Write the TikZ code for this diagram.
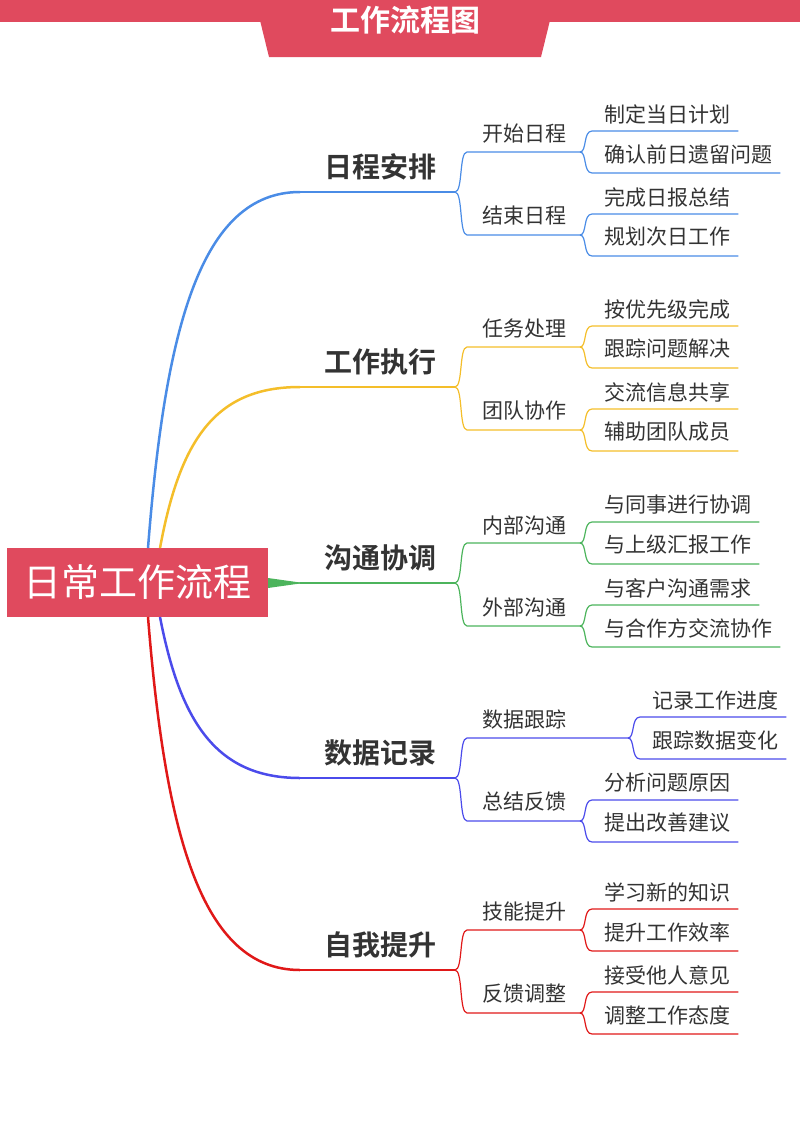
\documentclass[tikz,border=0pt]{standalone}
\usepackage{fontspec}
\setmainfont{Noto Sans CJK SC}
\newfontfamily\boldcjk{Noto Sans CJK SC Bold}
\definecolor{rosered}{HTML}{E04A5E}
\definecolor{inkgray}{HTML}{333333}
\definecolor{cblue}{HTML}{4A8CE6}
\definecolor{cyellow}{HTML}{F4BE2A}
\definecolor{cgreen}{HTML}{4CB45C}
\definecolor{cpurple}{HTML}{4B4BEB}
\definecolor{cred}{HTML}{E01818}
\tikzset{
	topic/.style={font=\boldcjk\fontsize{28}{30}\selectfont,text=inkgray},
	sub/.style={font=\fontsize{21}{23}\selectfont,text=inkgray},
	leaf/.style={font=\fontsize{21}{23}\selectfont,text=inkgray,anchor=west,inner sep=0pt}
}
% #1 name, #2 colour, #3 y, #4 x of end, #5 upper text, #6 lower text
\newcommand{\twig}[6]{
	\coordinate (#1e) at (#4,#3);
	\node[leaf] (#1a) at (#4+24,#3-38) {#5};
	\node[leaf] (#1b) at (#4+24,#3+2) {#6};
	\coordinate (#1a1) at (#4+12,#3-21);
	\coordinate (#1b1) at (#4+12,#3+21);
	\draw[#2,line width=1.2pt] (#1e) .. controls (#4+7,#3) and (#4+3,#3-21) .. (#1a1) -- (#1a.east |- #1a1) -- ++(8,0);
	\draw[#2,line width=1.2pt] (#1e) .. controls (#4+7,#3) and (#4+3,#3+21) .. (#1b1) -- (#1b.east |- #1b1) -- ++(8,0);
}
% #1 name, #2 colour, #3 base y, #4 topic, #5 sub a, #6 sub b, #7 end a, #8 end b
\newcommand{\limb}[8]{
	\node[topic] (#1) at (380,#3-25) {#4};
	\coordinate (#1s) at (300,#3);
	\coordinate (#1e) at (455,#3);
	\draw[#2,line width=1.2pt] (#1s) -- (#1e);
	\node[sub] (#1p) at (524,#3-58) {#5};
	\node[sub] (#1q) at (524,#3+24) {#6};
	\coordinate (#1p1) at (467,#3-40);
	\coordinate (#1q1) at (467,#3+43);
	\draw[#2,line width=1.2pt] (#1e) .. controls (463,#3) and (459,#3-40) .. (#1p1) -- (#7,#3-40);
	\draw[#2,line width=1.2pt] (#1e) .. controls (463,#3) and (459,#3+43) .. (#1q1) -- (#8,#3+43);
}
\begin{document}
\begin{tikzpicture}[x=1pt,y=-1pt]
	\useasboundingbox (0,0) rectangle (800,1130);
	% banner
	\fill[rosered] (0,0) rectangle (800,22);
	\fill[rosered] (255,0) -- (555,0) -- (541,57) -- (269,57) -- cycle;
	\node[font=\boldcjk\fontsize{30}{32}\selectfont,text=white] (title) at (405,20) {工作流程图};
	% root
	\node[fill=rosered,minimum width=261pt,minimum height=69pt,text=white,
		font=\fontsize{38}{40}\selectfont,inner sep=0pt] (root) at (137.5,582.5) {日常工作流程};
	% branches
	\limb{plan}{cblue}{192}{日程安排}{开始日程}{结束日程}{580}{580}
	\limb{work}{cyellow}{387}{工作执行}{任务处理}{团队协作}{580}{580}
	\limb{talk}{cgreen}{583}{沟通协调}{内部沟通}{外部沟通}{580}{580}
	\limb{data}{cpurple}{778}{数据记录}{数据跟踪}{总结反馈}{628}{580}
	\limb{grow}{cred}{970}{自我提升}{技能提升}{反馈调整}{580}{580}
	\draw[cblue,line width=2.5pt] (148,548) .. controls (165,330) and (200,192) .. (plans);
	\draw[cyellow,line width=2.5pt] (160,548) .. controls (180,440) and (215,387) .. (works);
	\fill[cgreen] (268,578) -- (300,582.5) -- (300,583.5) -- (268,588) -- cycle;
	\draw[cgreen,line width=1.2pt] (root.east) -- (talks);
	\draw[cpurple,line width=2.5pt] (160,617) .. controls (180,720) and (215,778) .. (datas);
	\draw[cred,line width=2.5pt] (148,617) .. controls (165,830) and (200,970) .. (grows);
	% leaves
	\twig{pa}{cblue}{152}{580}{制定当日计划}{确认前日遗留问题}
	\twig{pb}{cblue}{235}{580}{完成日报总结}{规划次日工作}
	\twig{wa}{cyellow}{347}{580}{按优先级完成}{跟踪问题解决}
	\twig{wb}{cyellow}{430}{580}{交流信息共享}{辅助团队成员}
	\twig{ta}{cgreen}{543}{580}{与同事进行协调}{与上级汇报工作}
	\twig{tb}{cgreen}{626}{580}{与客户沟通需求}{与合作方交流协作}
	\twig{da}{cpurple}{738}{628}{记录工作进度}{跟踪数据变化}
	\twig{db}{cpurple}{821}{580}{分析问题原因}{提出改善建议}
	\twig{ga}{cred}{930}{580}{学习新的知识}{提升工作效率}
	\twig{gb}{cred}{1013}{580}{接受他人意见}{调整工作态度}
\end{tikzpicture}
\end{document}
